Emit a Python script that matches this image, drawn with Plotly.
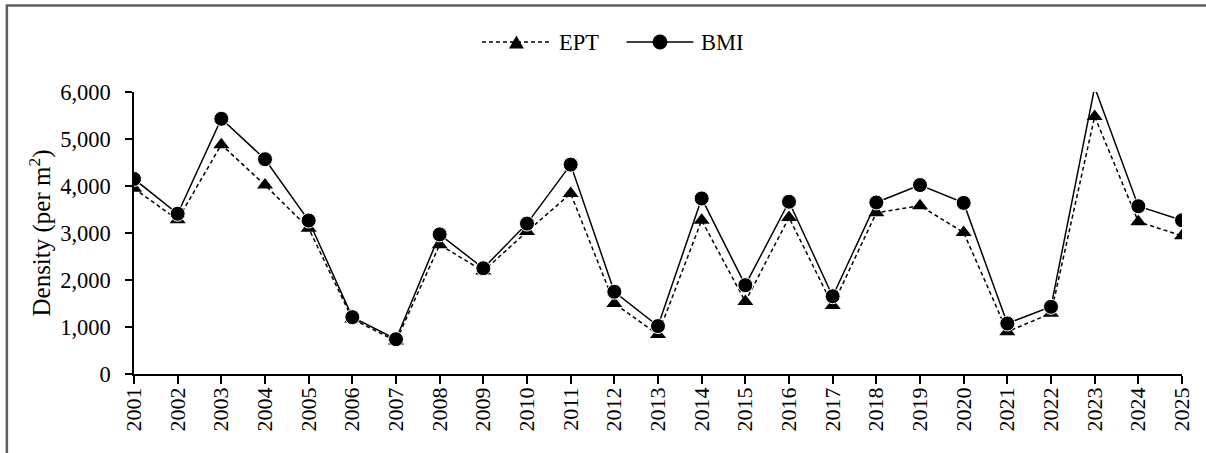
import plotly.graph_objects as go

# Annual densities (individuals per m²)
years = [str(y) for y in range(2001, 2026)]
ept = [3950, 3280, 4880, 4020, 3100, 1170, 700, 2750, 2190, 3030, 3840, 1500, 840,
       3270, 1540, 3330, 1460, 3430, 3580, 3010, 900, 1290, 5480, 3240, 2940]
bmi = [4150, 3410, 5430, 4570, 3265, 1210, 740, 2970, 2250, 3200, 4455, 1750, 1020,
       3735, 1890, 3665, 1655, 3650, 4020, 3640, 1075, 1430, 6100, 3570, 3270]
y_ticks = [0, 1000, 2000, 3000, 4000, 5000, 6000]

W, H = 1206, 453
ML, MR, MT, MB = 134, 21, 92, 79
Y_MAX = 6000
FONT = "Liberation Serif"
DASH = "4px,3px"

# points above the axis maximum are drawn without a marker
bmi_sizes = [0 if v > Y_MAX else 15 for v in bmi]

fig = go.Figure()
fig.add_trace(go.Scatter(
    x=years, y=ept, name="EPT", mode="lines+markers", showlegend=False,
    line=dict(color="black", width=1.5, dash=DASH),
    marker=dict(symbol="triangle-up", size=14, color="black", opacity=1),
))
fig.add_trace(go.Scatter(
    x=years, y=bmi, name="BMI", mode="lines+markers", showlegend=False,
    line=dict(color="black", width=1.5),
    marker=dict(symbol="circle", size=bmi_sizes, color="black", opacity=1,
                sizemode="diameter"),
))

# helpers: pixel position -> paper coordinates
pw, ph = W - ML - MR, H - MT - MB
def px_x(p):
    return (p - ML) / pw
def px_y(p):
    return (H - MB - p) / ph

# chart-area frame
fig.add_shape(type="rect", xref="paper", yref="paper",
              x0=px_x(6.5), x1=px_x(W + 10), y0=px_y(H + 10), y1=px_y(5.5),
              line=dict(color="#5f5f5f", width=2.5), fillcolor="rgba(0,0,0,0)",
              layer="below")

# legend keys: long line samples with a centred marker, then the label
LEG_Y = 42
legend_items = [
    ("EPT", 483, 552, DASH, "triangle"),
    ("BMI", 628, 695, "solid", "circle"),
]
for label, xa, xb, dash, sym in legend_items:
    fig.add_shape(type="line", xref="paper", yref="paper",
                  x0=px_x(xa), x1=px_x(xb), y0=px_y(LEG_Y), y1=px_y(LEG_Y),
                  line=dict(color="black", width=1.5, dash=dash))
    xc = (xa + xb) / 2
    if sym == "circle":
        r = 7.5
        fig.add_shape(type="circle", xref="paper", yref="paper",
                      x0=px_x(xc - r), x1=px_x(xc + r),
                      y0=px_y(LEG_Y + r), y1=px_y(LEG_Y - r),
                      fillcolor="black", line=dict(color="black", width=0))
    else:
        hw, hh = 7.5, 6.5
        path = (f"M {px_x(xc - hw)},{px_y(LEG_Y + hh)} "
                f"L {px_x(xc + hw)},{px_y(LEG_Y + hh)} "
                f"L {px_x(xc)},{px_y(LEG_Y - hh)} Z")
        fig.add_shape(type="path", xref="paper", yref="paper", path=path,
                      fillcolor="black", line=dict(color="black", width=0))
    fig.add_annotation(text=label, xref="paper", yref="paper",
                       x=px_x(xb + 6), y=px_y(LEG_Y), xanchor="left",
                       yanchor="middle", showarrow=False,
                       font=dict(family=FONT, size=22.5, color="black"))

fig.update_layout(
    width=W, height=H,
    margin=dict(l=ML, r=MR, t=MT, b=MB),
    paper_bgcolor="white", plot_bgcolor="white",
    font=dict(family=FONT, size=22, color="black"),
    showlegend=False,
    xaxis=dict(
        type="category", range=[0, len(years) - 1],
        showline=True, linecolor="black", linewidth=1.5,
        ticks="outside", ticklen=8, tickcolor="black", tickwidth=1.5,
        tickangle=-90, showgrid=False, zeroline=False,
        tickfont=dict(family=FONT, size=22), ticklabelstandoff=-5,
    ),
    yaxis=dict(
        range=[0, Y_MAX], tickvals=y_ticks, tickformat=",d",
        showline=True, linecolor="black", linewidth=1.5,
        ticks="outside", ticklen=7, tickcolor="black", tickwidth=1.5,
        showgrid=False, zeroline=False, ticklabelstandoff=10,
        tickfont=dict(family=FONT, size=22.5),
        title=dict(text="Density (per m<sup>2</sup>)",
                   font=dict(family=FONT, size=25), standoff=2),
    ),
)

fig.write_html("out.html")
